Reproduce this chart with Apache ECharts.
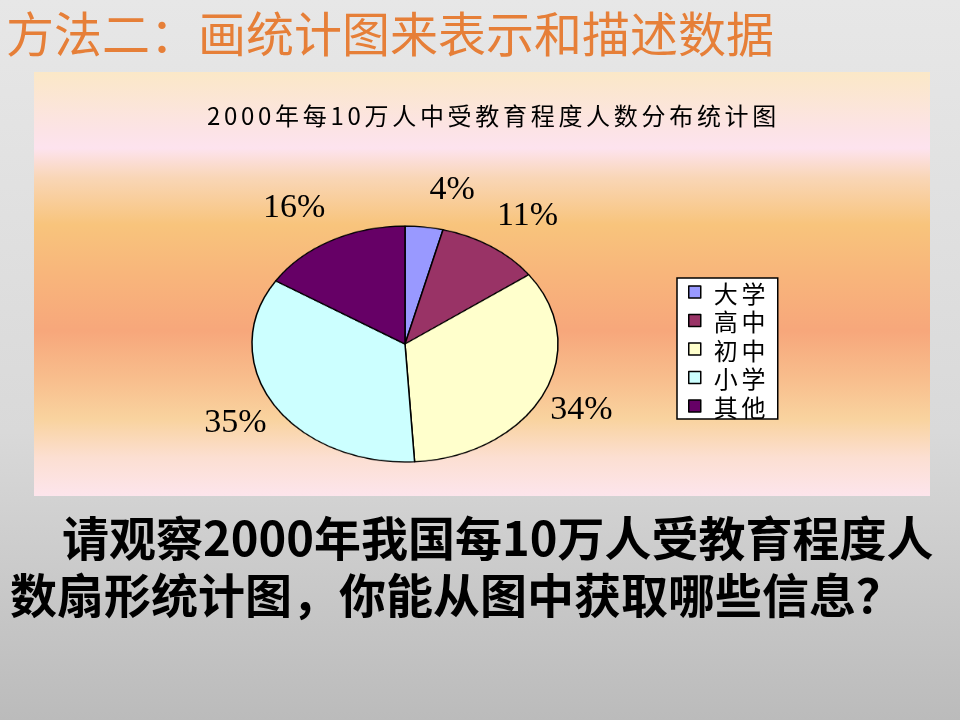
<!DOCTYPE html>
<html>
<head>
<meta charset="utf-8">
<script src="https://cdn.jsdelivr.net/npm/echarts@6/dist/echarts.min.js"></script>
<style>
  html, body { margin: 0; padding: 0; }
  body { width: 960px; height: 720px; overflow: hidden; position: relative;
         background: linear-gradient(to bottom, #e7e7e7 0%, #d9d9d9 60%, #bbbbbb 100%); }
  #box { position: absolute; left: 34px; top: 72px; width: 896px; height: 424px;
         background: linear-gradient(to bottom, #fbe8c7 0%, #fce3e6 14%, #fde3ee 18%, #f9d6b6 25%, #f8c47c 36%, #f8b57b 48%, #f7a77b 61%, #f8bd8c 72%, #f9d39f 82%, #fcdfd2 91%, #fde5ec 100%); }
  .layer { position: absolute; left: 0; top: 0; width: 960px; height: 720px; }
  #spaced { letter-spacing: 3.7px; }
  #pie { position: absolute; left: 205px; top: 144px; width: 400px; height: 400px;
         transform: scaleY(0.771); transform-origin: 50% 50%; }
</style>
</head>
<body>
<div id="box"></div>
<div id="txt" class="layer"></div>
<div id="spaced" class="layer"></div>
<div id="labels" class="layer"></div>
<div id="pie"></div>
<script>
// ---- data ----
const categories = ['大学', '高中', '初中', '小学', '其他'];
const values = [4, 11, 34, 35, 16];
const slideTitle = '方法二：画统计图来表示和描述数据';
const chartTitle = '2000年每10万人中受教育程度人数分布统计图';
const questionLines = ['请观察2000年我国每10万人受教育程度人', '数扇形统计图，你能从图中获取哪些信息？'];

// ---- styles ----
const colors = ['#9999ff', '#993366', '#ffffcc', '#ccffff', '#660066'];
const CJK = '"Noto Sans CJK SC", "Noto Sans", sans-serif';
const SERIF = '"Liberation Serif", "Times New Roman", serif';
const pieData = categories.map((c, i) => ({ name: c, value: values[i], itemStyle: { color: colors[i] } }));
const CENTER = [405, 344];

// text layer (slide title + question)
const txt = echarts.init(document.getElementById('txt'), null, { renderer: 'canvas' });
txt.setOption({
  animation: false,
  graphic: [
    { type: 'text', left: 6, top: 10, style: { text: slideTitle, fill: '#e67f38', font: 'normal 48px ' + CJK } },
    { type: 'text', left: 62, top: 515, style: { text: questionLines[0], fill: '#000', font: 'bold 47px ' + CJK } },
    { type: 'text', left: 10, top: 572, style: { text: questionLines[1], fill: '#000', font: 'bold 47px ' + CJK } }
  ]
});

// spaced layer (chart title + legend)
const spaced = echarts.init(document.getElementById('spaced'), null, { renderer: 'svg' });
spaced.setOption({
  animation: false,
  title: {
    text: chartTitle, left: 202, top: 97,
    textStyle: { fontFamily: CJK, fontSize: 24, fontWeight: 'normal', color: '#000' }
  },
  legend: {
    orient: 'vertical', left: 677, top: 278,
    backgroundColor: '#ffffff', borderColor: '#000', borderWidth: 1.5, borderRadius: 0,
    padding: [2, 16, 1, 11], itemGap: 4.5, itemWidth: 12, itemHeight: 12, icon: 'rect',
    data: categories.map((c, i) => ({ name: c, itemStyle: { color: colors[i], borderColor: '#000', borderWidth: 1.5, opacity: 1 } })),
    textStyle: { fontFamily: CJK, fontSize: 24, lineHeight: 24, color: '#000', padding: [0, 0, 0, 8] }
  },
  series: [{
    type: 'pie', center: CENTER, radius: [0, 148], startAngle: 90, silent: true,
    itemStyle: { opacity: 0 }, data: pieData,
    label: { show: false }, labelLine: { show: false }, emphasis: { disabled: true }
  }]
});

// label layer (percent labels)
const labels = echarts.init(document.getElementById('labels'), null, { renderer: 'canvas' });
labels.setOption({
  animation: false,
  series: [{
    type: 'pie', center: CENTER, radius: [0, 150], startAngle: 90, clockwise: true,
    avoidLabelOverlap: false, silent: true,
    itemStyle: { opacity: 0 },
    data: pieData,
    label: {
      show: true, position: 'outside', color: '#000', opacity: 1,
      fontFamily: SERIF, fontSize: 34,
      formatter: p => Math.round(p.percent) + '%'
    },
    labelLine: { show: false, length: 5, length2: 0 },
    emphasis: { disabled: true }
  }]
});

// pie layer (elliptical, scaled in CSS)
const pie = echarts.init(document.getElementById('pie'), null, { renderer: 'canvas' });
pie.setOption({
  animation: false,
  series: [{
    type: 'pie', center: ['50%', '50%'], radius: [0, 153], startAngle: 90, clockwise: true,
    data: pieData,
    itemStyle: { borderColor: '#000', borderWidth: 1.5 },
    label: { show: false }, labelLine: { show: false },
    emphasis: { disabled: true }
  }]
});
</script>
</body>
</html>
